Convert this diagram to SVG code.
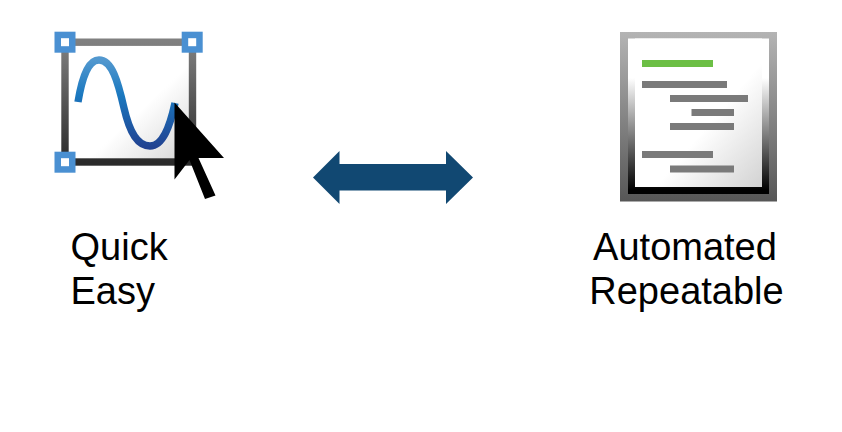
<svg xmlns="http://www.w3.org/2000/svg" width="842" height="432" viewBox="0 0 842 432">
<style>
text{font-family:"Liberation Sans",Arial,sans-serif;font-size:38px;fill:#000}
.h{fill:#4a90d2}.w{fill:#fff}.b{fill:#7a7a7a}
</style>
<defs>
<linearGradient id="fr" x1="0" y1="0" x2="0" y2="1"><stop offset="0" stop-color="#808080"/><stop offset="1" stop-color="#2a2a2a"/></linearGradient>
<linearGradient id="pg" x1="0.3" y1="0.3" x2="1" y2="1"><stop offset="0.4" stop-color="#fff"/><stop offset="1" stop-color="#d2d2d2"/></linearGradient>
<linearGradient id="cv" gradientUnits="userSpaceOnUse" x1="0" y1="60" x2="0" y2="148"><stop offset="0" stop-color="#5298cf"/><stop offset="0.4" stop-color="#1a78bf"/><stop offset="1" stop-color="#214190"/></linearGradient>
<linearGradient id="o" x1="0" y1="0" x2="0" y2="1"><stop offset="0" stop-color="#b4b4b4"/><stop offset="1" stop-color="#565656"/></linearGradient>
<linearGradient id="m" gradientUnits="userSpaceOnUse" x1="0" y1="78" x2="0" y2="190"><stop offset="0" stop-color="#fff"/><stop offset="1" stop-color="#000"/></linearGradient>
</defs>
<g id="manual-icon">
<rect x="65" y="42.200" width="127.500" height="119.800" fill="url(#pg)" stroke="url(#fr)" stroke-width="7.400"/>
<path d="M78 102C83 72 90 60 99 60C112 60 118 82 124 108C130 134 138 146 150 146C163 146 170 126 175 103" fill="none" stroke="url(#cv)" stroke-width="7.400"/>
<rect class="h" x="54.500" y="31.700" width="21" height="21"/><rect class="w" x="61" y="38.200" width="8" height="8"/>
<rect class="h" x="181.700" y="31.700" width="21" height="21"/><rect class="w" x="188.200" y="38.200" width="8" height="8"/>
<rect class="h" x="54.500" y="151.700" width="21" height="21"/><rect class="w" x="61" y="158.200" width="8" height="8"/>
<path d="M174.500 102.500L224 158H198.500L215.500 195.500L205 199L189.500 160L174.500 179.500Z" fill="#000"/>
</g>
<g id="script-icon">
<rect x="620" y="32" width="157" height="169.500" fill="url(#o)"/>
<rect x="628" y="38.500" width="141" height="155.500" fill="url(#m)"/>
<rect x="635" y="38.500" width="127" height="148.500" fill="url(#pg)"/>
<rect x="642" y="60" width="71" height="7" fill="#6cbf45"/>
<rect class="b" x="642" y="81" width="85" height="7"/>
<rect class="b" x="670" y="95" width="78" height="7"/>
<rect class="b" x="691.500" y="109" width="42.500" height="7"/>
<rect class="b" x="670" y="123" width="64" height="7"/>
<rect class="b" x="642" y="151" width="71" height="7"/>
<rect class="b" x="670" y="165.500" width="64" height="7"/>
</g>
<g id="connectors">
<path d="M313 177.500L339.500 151V164H446V151L473 177.500L446 204V190.500H339.500V204Z" fill="#114872"/>
</g>
<g id="label-left"><text x="70.500" y="260">Quick</text><text x="70.500" y="304">Easy</text></g>
<g id="label-right"><text x="685" y="260" text-anchor="middle">Automated</text><text x="686.500" y="304" text-anchor="middle">Repeatable</text></g>
</svg>
